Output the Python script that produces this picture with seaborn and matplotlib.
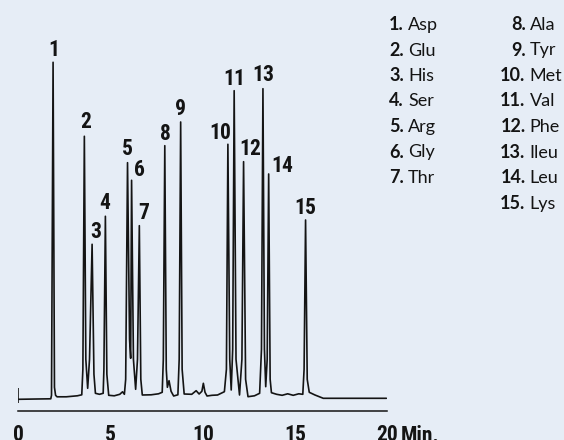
#!/usr/bin/env python3
# Amino acid chromatogram: detector trace with numbered peaks and a
# two-column peak legend on the right.
import matplotlib
matplotlib.use("Agg")
import matplotlib.pyplot as plt
import numpy as np
import pandas as pd
import seaborn as sns

# Detector trace (time in min, signal in arbitrary units)
TRACE_TIME = [
    0.00, 1.00, 1.76, 1.80, 1.885, 1.96, 2.02, 2.10, 2.60, 3.20,
    3.44, 3.50, 3.58, 3.66, 3.76, 3.86, 4.00, 4.10, 4.18, 4.40,
    4.60, 4.64, 4.72, 4.80, 4.90, 5.20, 5.50, 5.65, 5.75, 5.82,
    5.92, 6.03, 6.09, 6.14, 6.24, 6.36, 6.46, 6.56, 6.64, 6.72,
    7.20, 7.60, 7.80, 7.86, 7.94, 8.02, 8.08, 8.17, 8.28, 8.42,
    8.65, 8.72, 8.80, 8.88, 8.99, 9.40, 9.64, 9.80, 9.95, 10.03,
    10.12, 10.23, 10.50, 10.80, 11.17, 11.28, 11.36, 11.46, 11.54, 11.62,
    11.70, 11.80, 11.99, 12.12, 12.21, 12.32, 12.45, 12.80, 13.08, 13.18,
    13.26, 13.34, 13.41, 13.49, 13.57, 13.65, 13.72, 14.00, 14.30, 14.60,
    14.90, 15.20, 15.42, 15.49, 15.57, 15.66, 15.77, 16.08, 16.53, 19.95,
]
TRACE_SIGNAL = [
    0.0, 0.3, 0.5, 4.0, 337.0, 12.0, 4.0, 2.5, 2.5, 3.5,
    4.5, 30.0, 263.0, 40.0, 11.0, 40.0, 155.0, 25.0, 6.0, 5.0,
    6.0, 30.0, 183.0, 25.0, 4.0, 3.5, 5.0, 7.5, 5.0, 20.0,
    236.6, 60.0, 41.0, 219.0, 40.0, 10.0, 40.0, 173.6, 20.0, 4.3,
    4.5, 5.5, 7.0, 40.0, 253.6, 30.0, 12.0, 18.6, 8.0, 3.3,
    4.5, 40.0, 277.3, 30.0, 5.3, 5.0, 8.6, 5.3, 8.0, 16.0,
    7.0, 3.3, 4.0, 4.3, 7.6, 30.0, 255.0, 40.0, 9.3, 50.0,
    308.6, 40.0, 4.3, 40.0, 237.6, 20.0, 2.6, 3.5, 6.0, 50.0,
    310.6, 50.0, 12.6, 40.0, 225.3, 20.0, 6.6, 5.0, 4.0, 5.5,
    4.0, 5.5, 5.0, 30.0, 179.3, 20.0, 7.0, 4.3, 1.0, 1.0,
]

# Peak retention times (min) and their numbers
PEAK_TIMES = [1.885, 3.58, 4.00, 4.72, 5.92, 6.14, 6.56, 7.94,
              8.80, 11.36, 11.70, 12.21, 13.26, 13.57, 15.57]
PEAK_NUMBERS = [str(i) for i in range(1, 16)]
AMINO_ACIDS = ["Asp", "Glu", "His", "Ser", "Arg", "Gly", "Thr", "Ala",
               "Tyr", "Met", "Val", "Phe", "Ileu", "Leu", "Lys"]

X_TICKS = [0, 5, 10, 15, 20]

# Label placement relative to the peak top (pixels: right, up)
LABEL_OFFSETS = [(0.5, 6.7), (1, 8), (3.3, 6), (-1, 7), (0, 7.7),
                 (8, 4), (4.3, 6.7), (1, 5.7), (0.3, 7), (-7.7, 5.3),
                 (0, 5.7), (6.7, 6.7), (0.3, 7.7), (13.7, 2), (0, 6)]

BG = "#e6edf6"
INK = "#141414"
W, H = 564, 440
NARROW = ["Roboto Condensed", "Liberation Sans Narrow", "Liberation Sans",
          "DejaVu Sans"]
LEGEND_FONT = ["Lato", "DejaVu Sans"]


def px(x, y):
    # pixel position (from top left) -> figure fraction
    return x / W, 1 - y / H


def main():
    sns.set_style("white")
    plt.rcParams["font.family"] = NARROW

    fig = plt.figure(figsize=(W / 100, H / 100), dpi=100, facecolor=BG)
    left, _ = px(18.3, 0)
    ax = fig.add_axes([left, 0, 369 / W, 1])
    ax.set_facecolor("none")

    trace = pd.DataFrame({"time": TRACE_TIME, "signal": TRACE_SIGNAL})
    sns.lineplot(data=trace, x="time", y="signal", ax=ax, color=INK,
                 linewidth=1.2, estimator=None, sort=False)
    # start marker at injection
    ax.vlines(0, -4, 11, color=INK, linewidth=1.2)

    ax.set_xlim(0, 20)
    ax.set_ylim(-40.7, 399.3)
    ax.set_xlabel("")
    ax.set_ylabel("")
    ax.set_yticks([])
    for side in ("top", "right", "left"):
        ax.spines[side].set_visible(False)
    ax.spines["bottom"].set_position(("data", -11.7))
    ax.spines["bottom"].set_bounds(0, 20)
    ax.spines["bottom"].set_linewidth(1.1)
    ax.spines["bottom"].set_color(INK)
    ax.set_xticks(X_TICKS)
    ax.set_xticklabels([str(t) for t in X_TICKS], fontweight="bold",
                       fontsize=15.5, family=NARROW, color=INK)
    ax.tick_params(axis="x", direction="out", length=5.2, width=1.1,
                   color=INK, pad=4.0)
    ax.text(20.75, -25.5, "Min.", ha="left", va="top", fontsize=15.5,
            fontweight="bold", family=NARROW, color=INK, clip_on=False)

    # peak numbers
    for t, num, (dx, dy) in zip(PEAK_TIMES, PEAK_NUMBERS, LABEL_OFFSETS):
        top = np.interp(t, TRACE_TIME, TRACE_SIGNAL)
        ax.annotate(num, (t, top), xytext=(dx, dy), textcoords="offset pixels",
                    ha="center", va="baseline", fontsize=15.5,
                    fontweight="bold", family=NARROW, color=INK,
                    annotation_clip=False)

    # legend, two columns: 1-7 and 8-15
    for i, (num, name) in enumerate(zip(PEAK_NUMBERS, AMINO_ACIDS)):
        col = 0 if i < 7 else 1
        row = i if i < 7 else i - 7
        x_num = 404 if col == 0 else 525.5
        y = 30 + row * 25.5
        fig.text(*px(x_num, y), num + ".", ha="right", va="baseline",
                 fontsize=13, fontweight="bold", family=LEGEND_FONT,
                 color=INK)
        fig.text(*px(x_num + 4, y), name, ha="left", va="baseline",
                 fontsize=13, family=LEGEND_FONT, color=INK)

    fig.savefig("out.png", dpi=100, facecolor=BG)
    plt.close(fig)


if __name__ == "__main__":
    main()
